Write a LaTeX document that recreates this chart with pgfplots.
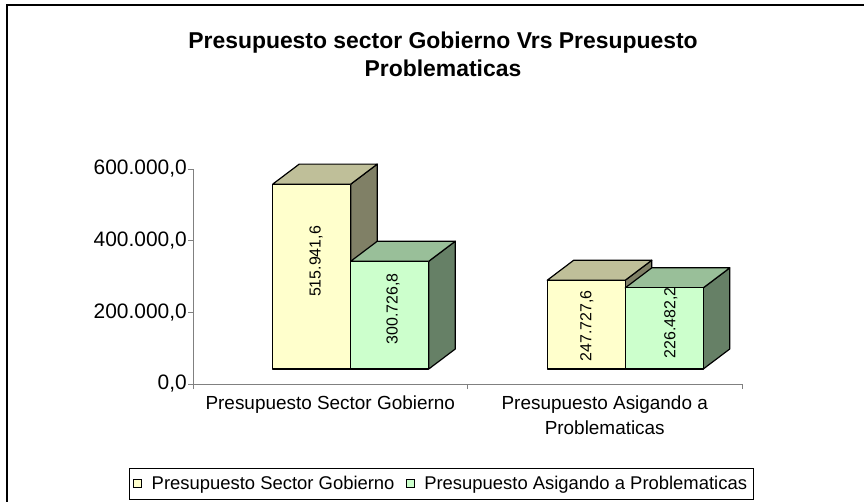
\documentclass[border=0pt]{standalone}
\usepackage{fontspec}
\setmainfont{Liberation Sans}
\usepackage{pgfplots}
\pgfplotsset{compat=1.18}
\definecolor{yellowF}{HTML}{FFFFCC}
\definecolor{yellowT}{HTML}{BFBF99}
\definecolor{yellowS}{HTML}{808066}
\definecolor{greenF}{HTML}{CCFFCC}
\definecolor{greenT}{HTML}{99BF99}
\definecolor{greenS}{HTML}{668066}
\definecolor{axisgray}{HTML}{808080}
% bar geometry (axis units)
\def\bw{0.2842}
\def\ddx{0.0965}
\def\ddy{55814}
\newcommand\cuboid[5]{%
  \pgfkeys{/pgf/fpu=true,/pgf/fpu/output format=fixed}%
  \pgfmathsetmacro\cxa{#1}%
  \pgfmathsetmacro\cxb{#1+\bw}%
  \pgfmathsetmacro\cxc{#1+\bw+\ddx}%
  \pgfmathsetmacro\cxd{#1+\ddx}%
  \pgfmathsetmacro\cyv{#2}%
  \pgfmathsetmacro\cyt{#2+\ddy}%
  \pgfkeys{/pgf/fpu=false}%
  \addplot[face, fill=#5] coordinates {(\cxb,0) (\cxc,\ddy) (\cxc,\cyt) (\cxb,\cyv)} -- cycle;
  \addplot[face, fill=#4] coordinates {(\cxa,\cyv) (\cxb,\cyv) (\cxc,\cyt) (\cxd,\cyt)} -- cycle;
  \addplot[face, fill=#3] coordinates {(\cxa,0) (\cxa,\cyv) (\cxb,\cyv) (\cxb,0)} -- cycle;
}
\begin{document}
\begin{tikzpicture}
\begin{axis}[
  at={(193bp,118bp)}, anchor=south west,
  scale only axis, width=549bp, height=215bp,
  xmin=0, xmax=2, ymin=0, ymax=600000,
  clip=false, scaled y ticks=false,
  axis x line=bottom, axis y line=left,
  axis line style={-, draw=axisgray, line width=1bp},
  tick align=outside, major tick length=5bp,
  ytick={0,200000,400000,600000},
  yticklabels={{0,0},{200.000,0},{400.000,0},{600.000,0}},
  ytick style={draw=axisgray, line width=1bp},
  yticklabel style={font=\fontsize{21}{25}\selectfont, inner sep=1bp},
  xtick={0,1,2}, xticklabels={},
  xtick style={draw=axisgray, line width=1bp},
  extra x ticks={0.5,1.5},
  extra x tick labels={Presupuesto Sector Gobierno,{Presupuesto Asigando a\\Problematicas}},
  extra x tick style={major tick length=0bp,
    xticklabel style={align=center, font=\fontsize{19}{25}\selectfont, anchor=north, inner sep=0bp, yshift=-12bp}},
  face/.style={forget plot, draw=black, line width=1.2bp, line join=round, mark=none,
    y filter/.expression={y+41860}},
  legend style={at={(0.4517,-0.4628)}, anchor=center, legend columns=2, draw=black, line width=0.8bp,
    font=\fontsize{18.5}{22}\selectfont, inner xsep=4bp, inner ysep=6bp,
    /tikz/every even column/.append style={column sep=9bp},
    /tikz/every odd column/.append style={column sep=8bp}},
  legend image code/.code={\draw[#1, line width=0.8bp] (0bp,-4bp) rectangle (8bp,4bp);},
]
% group 1
\cuboid{0.2905}{515941.6}{yellowF}{yellowT}{yellowS}
\cuboid{0.5747}{300726.8}{greenF}{greenT}{greenS}
% group 2
\cuboid{1.2905}{247727.6}{yellowF}{yellowT}{yellowS}
\cuboid{1.5747}{226482.2}{greenF}{greenT}{greenS}
% value labels
\addplot[forget plot, draw=none, mark=none, y filter/.expression={y+41860},
  nodes near coords, point meta=explicit symbolic,
  every node near coord/.append style={rotate=90, anchor=center, inner sep=0bp,
    font=\fontsize{16}{19}\selectfont, text=black}]
  coordinates {(0.448,300000) [515.941,6] (0.7286,167442) [300.726,8]
               (1.435,120000) [247.727,6] (1.741,128372) [226.482,2]};
\addlegendimage{fill=yellowF, draw=black}
\addlegendentry{Presupuesto Sector Gobierno}
\addlegendimage{fill=greenF, draw=black}
\addlegendentry{Presupuesto Asigando a Problematicas}
\end{axis}
\node[anchor=base, font=\bfseries\fontsize{23}{28}\selectfont] at (443bp,453bp) {Presupuesto sector Gobierno Vrs Presupuesto};
\node[anchor=base, font=\bfseries\fontsize{23}{28}\selectfont] at (443bp,425bp) {Problematicas};
\draw[line width=2bp] (7bp,-20bp) -- (7bp,497bp) -- (900bp,497bp);
\pgfresetboundingbox
\path[use as bounding box] (0,0) rectangle (864bp,502bp);
\end{tikzpicture}
\end{document}
